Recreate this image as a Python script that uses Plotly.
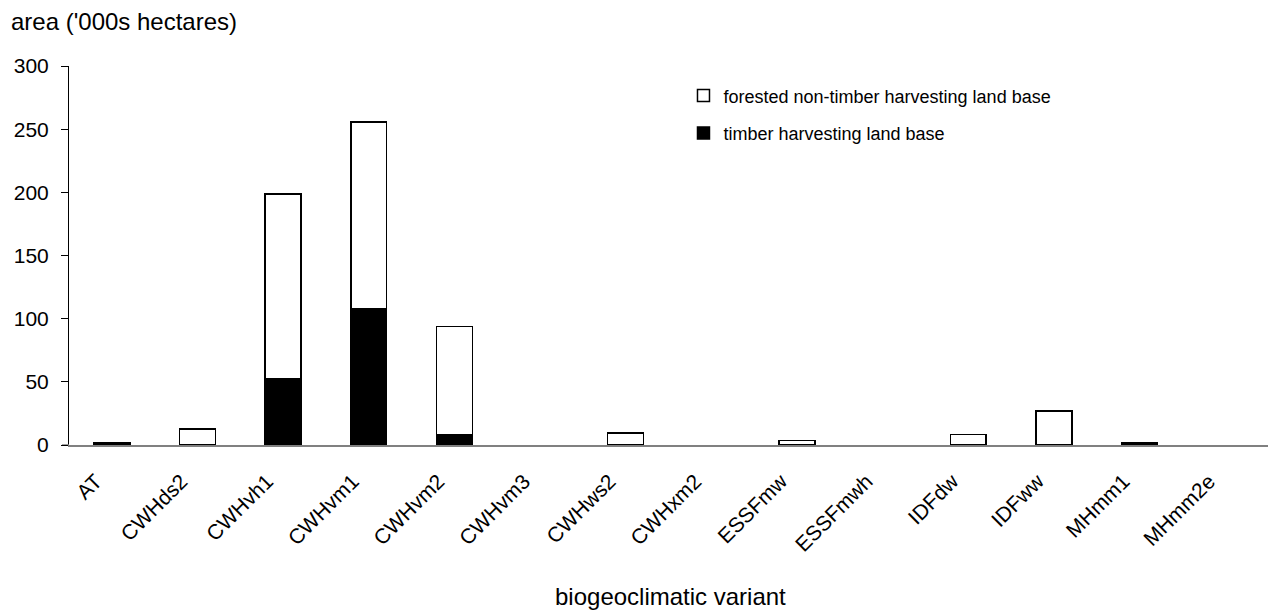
import plotly.graph_objects as go

categories = ["AT", "CWHds2", "CWHvh1", "CWHvm1", "CWHvm2", "CWHvm3", "CWHws2",
              "CWHxm2", "ESSFmw", "ESSFmwh", "IDFdw", "IDFww", "MHmm1", "MHmm2e"]
thlb = [1.5, None, 52.5, 108, 8, None, None, None, None, None, None, None, 1.5, None]
non_thlb = [0.5, 12.7, 146, 147.5, 85.7, None, 9.6, None, 3.5, None, 8.2, 27, None, None]
y_ticks = [0, 50, 100, 150, 200, 250, 300]

font = "Liberation Sans, Arial, sans-serif"
PW = 1199
PH = 379

fig = go.Figure()
fig.add_trace(go.Bar(x=categories, y=thlb, name="timber harvesting land base",
                     legendgroup="b", legendrank=2,
                     marker=dict(color="black", line=dict(color="black", width=1.5))))
fig.add_trace(go.Bar(x=categories, y=non_thlb, name="forested non-timber harvesting land base",
                     legendgroup="a", legendrank=1,
                     marker=dict(color="white", line=dict(color="black", width=1.5))))

fig.update_layout(
    barmode="stack",
    bargap=0.58,
    width=1269, height=612,
    margin=dict(l=69, r=1, t=66, b=167),
    paper_bgcolor="white", plot_bgcolor="white",
    font=dict(family=font, size=21, color="black"),
    showlegend=True,
    legend=dict(x=0.5125, y=0.97, xanchor="left", yanchor="top",
                traceorder="grouped", bgcolor="rgba(0,0,0,0)",
                font=dict(size=18), tracegroupgap=11),
    xaxis=dict(showline=True, linecolor="#808080", linewidth=1.5, tickangle=-45,
               ticks="", showgrid=False, tickfont=dict(size=21),
               ticklabelshift=-16, ticklabelstandoff=14),
    yaxis=dict(range=[0, 300], tickvals=y_ticks, showline=True, linecolor="black",
               linewidth=1, ticks="outside", ticklen=7, tickcolor="black",
               ticklabelstandoff=8,
               showgrid=False, zeroline=False, tickfont=dict(size=21)),
    shapes=[dict(type="line", xref="paper", yref="y", x0=-7/PW, x1=0, y0=0, y1=0,
                 line=dict(color="#808080", width=1.5))],
    annotations=[
        dict(text="area ('000s hectares)", xref="paper", yref="paper",
             x=-(69-9)/PW, y=1 + 44/PH, xanchor="left", yanchor="middle",
             showarrow=False, font=dict(size=24)),
        dict(text="biogeoclimatic variant", x=(670-69)/PW, xref="paper", yref="paper",
             y=-(596-445)/PH, xanchor="center", yanchor="middle",
             showarrow=False, font=dict(size=24)),
    ],
)

fig.write_html("out.html")
